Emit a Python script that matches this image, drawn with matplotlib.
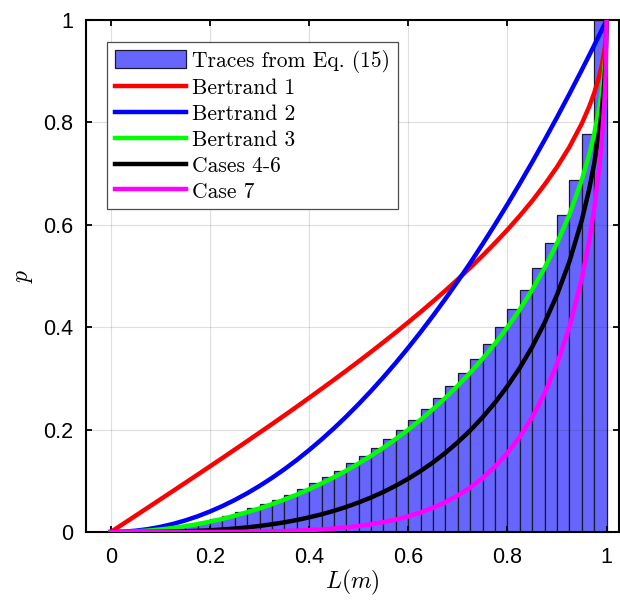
import matplotlib
matplotlib.use("Agg")
import matplotlib.pyplot as plt

# ---- data ----
bin_width = 0.025
bar_left = [0.025 * i for i in range(40)]
bar_height = [0.0003, 0.0013, 0.0028, 0.0050, 0.0078, 0.0113, 0.0154, 0.0202,
              0.0256, 0.0318, 0.0386, 0.0461, 0.0543, 0.0633, 0.0730, 0.0835,
              0.0948, 0.1070, 0.1200, 0.1340, 0.1489, 0.1648, 0.1819, 0.2000,
              0.2194, 0.2401, 0.2622, 0.2859, 0.3113, 0.3386, 0.3680, 0.4000,
              0.4349, 0.4732, 0.5159, 0.5641, 0.6200, 0.6878, 0.7778, 1.0000]

L = [0, .025, .05, .075, .1, .125, .15, .175, .2, .225, .25, .275, .3, .325,
     .35, .375, .4, .425, .45, .475, .5, .525, .55, .575, .6, .625, .65, .675,
     .7, .725, .75, .775, .8, .825, .85, .875, .9, .925, .95, .965, .975, .985,
     .99, .995, .998, 1.0]
bertrand1 = [0, .0159, .0318, .0478, .0638, .0798, .0959, .1120, .1282, .1445,
             .1609, .1774, .1940, .2107, .2276, .2447, .2620, .2795, .2972,
             .3151, .3333, .3519, .3708, .3900, .4097, .4298, .4505, .4717,
             .4936, .5163, .5399, .5645, .5903, .6177, .6468, .6785, .7129,
             .7519, .7978, .8311, .8574, .8896, .9099, .9363, .9597, 1.0]
bertrand2 = [0, .0006, .0025, .0056, .0100, .0156, .0225, .0306, .0400, .0506,
             .0625, .0756, .0900, .1056, .1225, .1406, .1600, .1806, .2025,
             .2256, .2500, .2756, .3025, .3306, .3600, .3906, .4225, .4556,
             .4900, .5256, .5625, .6006, .6400, .6806, .7225, .7656, .8100,
             .8556, .9025, .9312, .9506, .9702, .9801, .9900, .9960, 1.0]
bertrand3 = [0, .0003, .0013, .0028, .0050, .0078, .0113, .0154, .0202, .0256,
             .0318, .0386, .0461, .0543, .0633, .0730, .0835, .0948, .1070,
             .1200, .1340, .1489, .1648, .1819, .2000, .2194, .2401, .2622,
             .2859, .3113, .3386, .3680, .4000, .4349, .4732, .5159, .5641,
             .6200, .6878, .7378, .7778, .8275, .8589, .9001, .9368, 1.0]
cases46 = [0, .0000, .0001, .0002, .0004, .0008, .0014, .0023, .0034, .0049,
           .0068, .0090, .0118, .0151, .0189, .0234, .0286, .0345, .0413,
           .0490, .0577, .0674, .0783, .0905, .1041, .1192, .1360, .1547,
           .1754, .1984, .2241, .2527, .2848, .3208, .3617, .4088, .4631,
           .5281, .6090, .6700, .7194, .7814, .8210, .8730, .9196, 1.0]
case7 = [0, 0, 0, 0, 0, 0, 0, .0001, .0001, .0002, .0003, .0005, .0009, .0013,
         .0019, .0027, .0037, .0050, .0068, .0090, .0117, .0151, .0193, .0245,
         .0307, .0383, .0474, .0584, .0714, .0870, .1057, .1279, .1544, .1862,
         .2244, .2711, .3283, .4005, .4954, .5699, .6320, .7114, .7629, .8313,
         .8929, 1.0]

labels = ["Traces from Eq. (15)", "Bertrand 1", "Bertrand 2", "Bertrand 3",
          "Cases 4-6", "Case 7"]
colors = ["#ff0000", "#0000ff", "#00ff00", "#000000", "#ff00ff"]
xticks = [0, 0.2, 0.4, 0.6, 0.8, 1]
yticks = [0, 0.2, 0.4, 0.6, 0.8, 1]

# ---- figure ----
plt.rcParams['mathtext.fontset'] = 'cm'
fig = plt.figure(figsize=(6.2, 6.01), dpi=100)
ax = fig.add_axes([86 / 620, 1 - 532 / 601, (619 - 86) / 620, (532 - 20) / 601])

bars = ax.bar(bar_left, bar_height, width=bin_width, align='edge',
              facecolor=(0.4, 0.4, 1.0), edgecolor=(0.1, 0.1, 0.2),
              linewidth=0.9, label=labels[0], zorder=1)
handles = [bars]
series = [bertrand1, bertrand2, bertrand3, cases46, case7]
for s, c, lab in zip(series, colors, labels[1:]):
    ln, = ax.plot(L, s, color=c, lw=3.2, label=lab, zorder=3)
    handles.append(ln)

ax.set_xlim(-0.05, 1.025)
ax.set_ylim(0, 1)
ax.set_xticks(xticks)
ax.set_yticks(yticks)
ax.set_xticklabels([f"{t:g}" for t in xticks], family='Liberation Sans', fontsize=15.5)
ax.set_yticklabels([f"{t:g}" for t in yticks], family='Liberation Sans', fontsize=15.5)
ax.tick_params(direction='in', length=4.5, width=1.3, top=True, right=True)
ax.tick_params(axis='x', pad=11)
ax.tick_params(axis='y', pad=9)
ax.grid(True, color=(0.15, 0.15, 0.15), alpha=0.15, lw=0.8)
ax.set_axisbelow(False)
for sp in ax.spines.values():
    sp.set_linewidth(1.5)

ax.set_xlabel(r'$L(m)$', fontsize=17, labelpad=0)
ax.set_ylabel(r'$p$', fontsize=17, labelpad=6)

leg = ax.legend(handles, labels, loc='upper left',
                bbox_to_anchor=((107 - 86) / 533, 1 - (42 - 20) / 512),
                bbox_transform=ax.transAxes,
                prop={'family': 'cmr10', 'size': 15.5}, fancybox=False,
                edgecolor=(0.3, 0.3, 0.3), framealpha=1, borderaxespad=0,
                handlelength=3.3, handleheight=0.95, handletextpad=0.3,
                labelspacing=0.24, borderpad=0.35)
leg.get_frame().set_linewidth(0.9)
leg.set_zorder(5)

fig.savefig("out.png", dpi=100)
